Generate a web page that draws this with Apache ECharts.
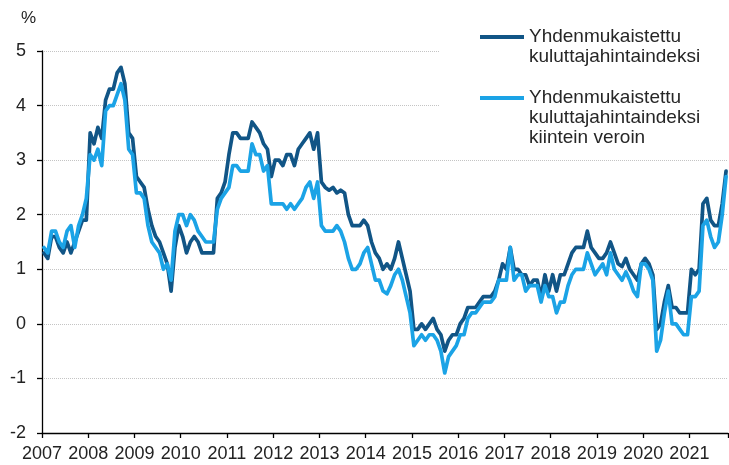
<!DOCTYPE html>
<html>
<head>
<meta charset="utf-8">
<script src="https://cdn.jsdelivr.net/npm/echarts@6/dist/echarts.min.js"></script>
<style>
  html, body { margin: 0; padding: 0; background: #ffffff; }
  #chart { width: 729px; height: 465px; }
</style>
</head>
<body>
<div id="chart"></div>
<script>
// ---- Data (annual % change, monthly, Jan 2007 – Oct 2021) ----
const years = [2007, 2008, 2009, 2010, 2011, 2012, 2013, 2014, 2015, 2016, 2017, 2018, 2019, 2020, 2021];
const lastYearMonths = 10; // data ends October 2021

const seriesNames = [
  'Yhdenmukaistettu\nkuluttajahintaindeksi',
  'Yhdenmukaistettu\nkuluttajahintaindeksi\nkiintein veroin'
];

// Harmonised index of consumer prices
const hicp = [
  1.3, 1.2, 1.6, 1.6, 1.4, 1.3, 1.5, 1.3, 1.5, 1.7, 1.9, 1.9,      // 2007
  3.5, 3.3, 3.6, 3.4, 4.1, 4.3, 4.3, 4.6, 4.7, 4.4, 3.5, 3.4,      // 2008
  2.7, 2.6, 2.5, 2.1, 1.8, 1.6, 1.5, 1.3, 1.1, 0.6, 1.4, 1.8,      // 2009
  1.6, 1.3, 1.5, 1.6, 1.5, 1.3, 1.3, 1.3, 1.3, 2.3, 2.4, 2.6,      // 2010
  3.1, 3.5, 3.5, 3.4, 3.4, 3.4, 3.7, 3.6, 3.5, 3.3, 3.2, 2.7,      // 2011
  3.0, 3.0, 2.9, 3.1, 3.1, 2.9, 3.2, 3.3, 3.4, 3.5, 3.2, 3.5,      // 2012
  2.6, 2.5, 2.45, 2.5, 2.4, 2.45, 2.4, 2.0, 1.8, 1.8, 1.8, 1.9,    // 2013
  1.8, 1.5, 1.3, 1.2, 1.0, 1.1, 1.0, 1.2, 1.5, 1.2, 0.9, 0.6,      // 2014
  -0.1, -0.1, 0.0, -0.1, 0.0, 0.1, -0.1, -0.2, -0.5, -0.3, -0.2, -0.2, // 2015
  0.0, 0.1, 0.3, 0.3, 0.3, 0.4, 0.5, 0.5, 0.5, 0.6, 0.8, 1.1,      // 2016
  1.0, 1.4, 1.0, 1.0, 0.9, 0.9, 0.7, 0.8, 0.8, 0.5, 0.9, 0.6,      // 2017
  0.9, 0.6, 0.9, 0.9, 1.1, 1.3, 1.4, 1.4, 1.4, 1.7, 1.4, 1.3,      // 2018
  1.2, 1.2, 1.3, 1.5, 1.3, 1.1, 1.05, 1.2, 1.0, 0.9, 0.8, 1.1,     // 2019
  1.2, 1.1, 0.9, -0.1, 0.0, 0.4, 0.7, 0.3, 0.3, 0.2, 0.2, 0.2,     // 2020
  1.0, 0.9, 1.0, 2.2, 2.3, 1.9, 1.8, 1.8, 2.2, 2.8                 // 2021
];

// HICP at constant tax rates
const hicpConstTax = [
  1.4, 1.3, 1.7, 1.7, 1.5, 1.4, 1.7, 1.8, 1.4, 1.8, 2.0, 2.3,      // 2007
  3.1, 3.0, 3.2, 2.9, 3.9, 4.0, 4.0, 4.2, 4.4, 4.1, 3.2, 3.1,      // 2008
  2.4, 2.4, 2.3, 1.8, 1.5, 1.4, 1.3, 1.0, 1.1, 0.8, 1.7, 2.0,      // 2009
  2.0, 1.8, 2.0, 1.9, 1.7, 1.6, 1.5, 1.5, 1.5, 2.1, 2.3, 2.4,      // 2010
  2.5, 2.9, 2.9, 2.8, 2.8, 2.8, 3.3, 3.1, 3.1, 2.8, 2.9, 2.2,      // 2011
  2.2, 2.2, 2.2, 2.1, 2.2, 2.1, 2.2, 2.3, 2.5, 2.6, 2.3, 2.6,      // 2012
  1.8, 1.7, 1.7, 1.7, 1.8, 1.7, 1.5, 1.2, 1.0, 1.0, 1.1, 1.3,      // 2013
  1.4, 1.1, 0.8, 0.8, 0.6, 0.55, 0.7, 0.9, 1.0, 0.8, 0.5, 0.2,     // 2014
  -0.4, -0.3, -0.2, -0.3, -0.2, -0.2, -0.3, -0.5, -0.9, -0.6, -0.5, -0.4, // 2015
  -0.2, -0.2, 0.1, 0.2, 0.2, 0.3, 0.4, 0.4, 0.4, 0.5, 0.8, 0.8,    // 2016
  0.8, 1.4, 0.8, 0.9, 0.9, 0.6, 0.7, 0.7, 0.7, 0.4, 0.7, 0.5,      // 2017
  0.5, 0.2, 0.4, 0.4, 0.7, 0.9, 1.0, 1.0, 1.0, 1.3, 1.1, 0.9,      // 2018
  1.0, 1.1, 0.9, 1.3, 1.0, 0.9, 0.8, 0.95, 0.8, 0.6, 0.5, 1.1,     // 2019
  1.1, 1.0, 0.8, -0.5, -0.3, 0.2, 0.6, 0.0, 0.0, -0.1, -0.2, -0.2, // 2020
  0.5, 0.5, 0.6, 1.8, 1.9, 1.6, 1.4, 1.5, 2.0, 2.7                 // 2021
];

const yTicks = { min: -2, max: 5, interval: 1 };

// ---- Categories (one per month) ----
const months = [];
years.forEach(function (y, yi) {
  const n = (yi === years.length - 1) ? lastYearMonths : 12;
  for (let m = 1; m <= n; m++) months.push(y + '-' + (m < 10 ? '0' + m : m));
});
const isYearStart = function (idx) { return idx % 12 === 0; };

const FONT = 'Liberation Sans, Arial, sans-serif';
const DARK = '#115586';
const LIGHT = '#1ba3e6';

// legend text: blank lines on top so that the icon sits beside the first line
function topAligned(name) {
  const n = name.split('\n').length;
  return new Array(n).join('\n') + name;
}

const legendBase = {
  orient: 'vertical', left: 440,
  icon: 'rect', itemWidth: 44, itemHeight: 4,
  backgroundColor: '#ffffff', padding: [0, 40, 0, 40],
  selectedMode: false,
  formatter: topAligned,
  textStyle: { fontFamily: FONT, fontSize: 19, lineHeight: 20, color: '#262626' }
};

const chart = echarts.init(document.getElementById('chart'), null, { renderer: 'canvas' });
chart.setOption({
  animation: false,
  backgroundColor: '#ffffff',
  textStyle: { fontFamily: FONT },
  grid: { left: 42, right: 1, top: 51, bottom: 32, containLabel: false },
  legend: [
    Object.assign({}, legendBase, { data: [seriesNames[0]], top: 7 }),
    Object.assign({}, legendBase, { data: [seriesNames[1]], top: 48 })
  ],
  xAxis: {
    type: 'category',
    data: months,
    boundaryGap: true,
    axisLine: { show: true, onZero: false, lineStyle: { color: '#000000', width: 1.3 } },
    axisTick: { show: true, interval: function (idx) { return isYearStart(idx); }, length: 5, lineStyle: { color: '#000000', width: 1.3 } },
    axisLabel: {
      interval: function (idx) { return isYearStart(idx); },
      formatter: function (v) { return v.slice(0, 4); },
      fontFamily: FONT, fontSize: 18, color: '#222222', margin: 12,
      padding: [0, 4, 0, 0]
    },
    splitLine: { show: false }
  },
  yAxis: {
    type: 'value',
    min: yTicks.min, max: yTicks.max, interval: yTicks.interval,
    name: '%',
    nameLocation: 'end',
    nameGap: 24,
    nameTextStyle: { fontFamily: FONT, fontSize: 17, color: '#222222', align: 'right', padding: [0, 6, 0, 0] },
    axisLine: { show: true, lineStyle: { color: '#000000', width: 1.3 } },
    axisTick: { show: true, length: 5, lineStyle: { color: '#000000', width: 1.3 } },
    axisLabel: { fontFamily: FONT, fontSize: 18, color: '#222222', margin: 16 },
    splitLine: { show: true, lineStyle: { color: '#c4c4c4', width: 1, type: 'dotted' } }
  },
  series: [
    {
      name: seriesNames[0], type: 'line', data: hicp,
      showSymbol: false, symbol: 'none', smooth: false,
      lineStyle: { color: DARK, width: 3.7, join: 'round', cap: 'round' },
      itemStyle: { color: DARK }, z: 2
    },
    {
      name: seriesNames[1], type: 'line', data: hicpConstTax,
      showSymbol: false, symbol: 'none', smooth: false,
      lineStyle: { color: LIGHT, width: 3.7, join: 'round', cap: 'round' },
      itemStyle: { color: LIGHT }, z: 3
    }
  ]
});
</script>
</body>
</html>
